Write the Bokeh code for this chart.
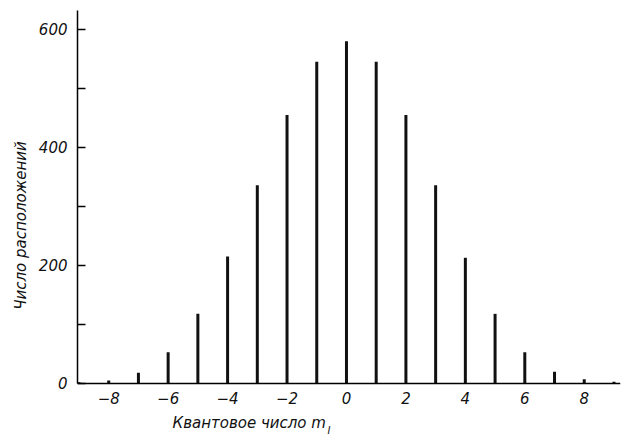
from bokeh.plotting import figure
from bokeh.models import Range1d, FixedTicker, ColumnDataSource, Label
from bokeh.embed import file_html
from bokeh.resources import INLINE

# Data
m_values = [-9, -8, -7, -6, -5, -4, -3, -2, -1, 0, 1, 2, 3, 4, 5, 6, 7, 8, 9]
counts = [2, 5, 18, 53, 118, 215, 336, 455, 545, 580, 545, 455, 336, 213, 118, 53, 20, 7, 3]
x_ticks = [-8, -6, -4, -2, 0, 2, 4, 6, 8]
y_ticks = [0, 100, 200, 300, 400, 500, 600]
y_labels = {0: "0", 100: "", 200: "200", 300: "", 400: "400", 500: "", 600: "600"}
x_title = "Квантовое число m"
x_title_sub = "I"
y_title = "Число расположений"

src = ColumnDataSource(dict(x=m_values, y0=[0] * len(m_values), y1=counts))

FONT = "DejaVu Sans"
INK = "#111111"
X0, X1 = -9.05, 9.22
Y0, Y1 = -96.6, 632

p = figure(width=622, height=440, output_backend="svg", toolbar_location=None,
           x_range=Range1d(X0, X1), y_range=Range1d(Y0, Y1),
           min_border_left=77, min_border_right=2, min_border_top=10, min_border_bottom=0)
p.outline_line_color = None
p.xgrid.visible = False
p.ygrid.visible = False
p.background_fill_color = "white"
p.border_fill_color = "white"

p.segment(x0="x", y0="y0", x1="x", y1="y1", source=src, line_color=INK, line_width=3)

# y axis (line only from 0 upward)
ya = p.yaxis[0]
ya.bounds = (0, Y1)
ya.ticker = FixedTicker(ticks=y_ticks)
ya.major_label_overrides = y_labels
ya.major_tick_in = 8
ya.major_tick_out = 0
ya.minor_tick_in = 0
ya.minor_tick_out = 0
ya.axis_line_width = 1.5
ya.major_tick_line_width = 1.5
ya.major_label_text_font = FONT
ya.major_label_text_font_style = "italic"
ya.major_label_text_font_size = "15px"
ya.major_label_text_color = INK
ya.major_label_standoff = 10
ya.axis_label = y_title
ya.axis_label_text_font = FONT
ya.axis_label_text_font_style = "italic"
ya.axis_label_text_font_size = "15px"
ya.axis_label_text_color = INK
ya.axis_label_standoff = 6

# x axis drawn at y = 0 inside the frame
xa = p.xaxis[0]
xa.fixed_location = 0
xa.bounds = (X0, X1)
xa.ticker = FixedTicker(ticks=x_ticks)
xa.major_tick_in = 0
xa.major_tick_out = 0
xa.minor_tick_in = 0
xa.minor_tick_out = 0
xa.axis_line_width = 1.5
xa.major_label_text_font = FONT
xa.major_label_text_font_style = "italic"
xa.major_label_text_font_size = "15px"
xa.major_label_text_color = INK
xa.major_label_standoff = 9
xa.major_label_overrides = {t: (str(t).replace("-", "\u2212")) for t in x_ticks}

# x title, left of centre as in the reference, with subscript I
title = Label(x=95, y=9, x_units="screen", y_units="screen", text=x_title,
              text_font=FONT, text_font_style="italic", text_font_size="15px",
              text_color=INK, text_baseline="bottom")
p.add_layout(title)
sub = Label(x=250, y=5, x_units="screen", y_units="screen", text=x_title_sub,
            text_font=FONT, text_font_style="italic", text_font_size="10px",
            text_color=INK, text_baseline="bottom")
p.add_layout(sub)

open("out.html", "w").write(file_html(p, INLINE))
